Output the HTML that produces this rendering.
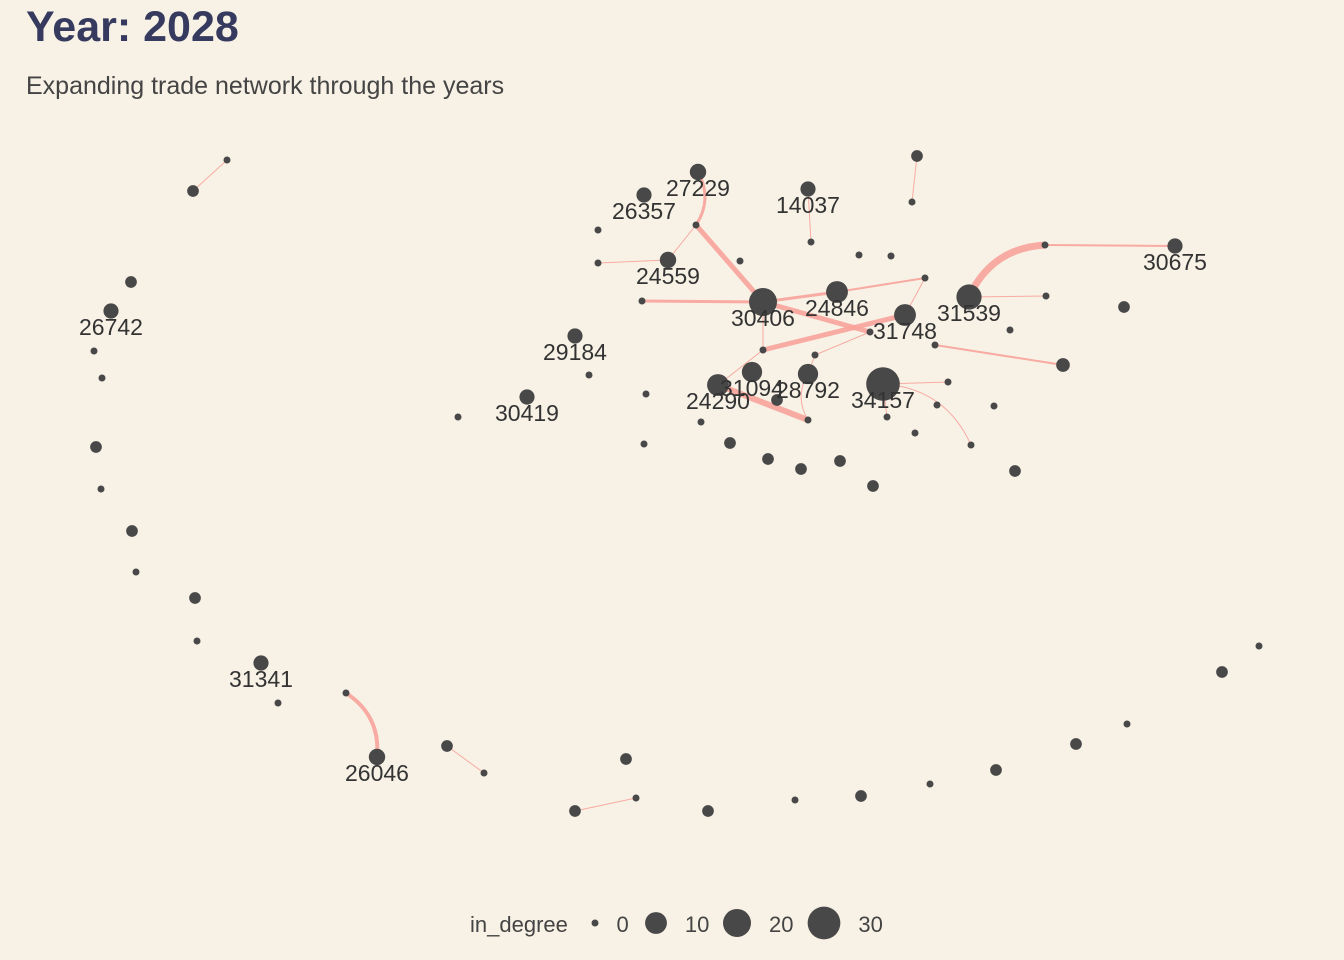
<!DOCTYPE html>
<html><head><meta charset="utf-8"><style>
html,body{margin:0;padding:0;background:#f8f2e6;}
svg{display:block;font-family:"Liberation Sans",sans-serif;}
</style></head><body>
<svg id="chart" width="1344" height="960" viewBox="0 0 1344 960">
<rect width="1344" height="960" fill="#f8f2e6"/>
<text x="26" y="41" font-size="43" font-weight="bold" fill="#363a5e">Year: 2028</text>
<text x="26" y="94" font-size="25" fill="#444">Expanding trade network through the years</text>
<g id="edges"></g>
<g id="nodes"></g>
<g id="labels"></g>
<g id="legend">
<text x="470" y="932" font-size="22" fill="#444">in_degree</text>
</g>
</svg>
<script>
// node data: layout positions, in-degree, label
const nodeX = [227,193,131,111,94,102,96,101,132,136,195,197,261,278,346,377,447,484,575,636,626,708,795,861,930,996,1076,1127,1222,1259,
575,589,527,458,
698,644,808,917,912,696,598,598,668,740,811,859,891,642,763,837,925,969,1046,1045,1175,905,1010,870,763,815,935,1063,752,808,718,883,777,808,948,937,994,887,646,701,915,971,644,730,768,801,840,873,1015,1124];
const nodeY = [160,191,282,311,351,378,447,489,531,572,598,641,663,703,693,757,746,773,811,798,759,811,800,796,784,770,744,724,672,646,
336,375,397,417,
172,195,189,156,202,225,230,263,260,261,242,255,256,301,302,292,278,297,296,245,246,315,330,332,350,355,345,365,372,374,385,384,400,420,382,405,406,417,394,422,433,445,444,443,459,469,461,486,471,307];
const nodeDeg = [0,1,1,3,0,0,1,0,1,0,1,0,3,0,0,4,1,0,1,0,1,1,0,1,0,1,1,0,1,0,
3,0,3,0,
4,3,3,1,0,0,0,0,4,0,0,0,0,0,20,10,0,15,0,0,3,10,0,0,0,0,0,2,8,8,10,32,1,0,0,0,0,0,0,0,0,0,0,1,1,1,1,1,1,1];
const nodeLabel = {3:"26742",12:"31341",15:"26046",30:"29184",32:"30419",34:"27229",35:"26357",36:"14037",42:"24559",48:"30406",49:"24846",51:"31539",54:"30675",55:"31748",62:"31094",63:"28792",64:"24290",65:"34157"};
// edges: from index, to index, weight
const edgeFrom = [0,14,17,19,38,34,39,39,41,47,48,48,58,50,50,51,53,52,60,36,48,58,64,67,59,59,65,65,71];
const edgeTo   = [1,15,16,18,37,39,48,42,42,48,49,57,55,49,55,53,54,51,61,44,58,64,67,63,63,57,68,75,65];
const edgeW    = [1,4,1,1,1,3,5,1,1,3,3,5,5,2,1,7,2,1,2,1,1,1,6,1,1,1,1,1,1];
const edgeCurve= [0,1,0,0,0,1,0,0,0,0,0,0,0,0,0,1,0,0,0,0,0,0,0,1,0,0,0,1,0];

function radius(d){return 3.5+2.35*Math.sqrt(d);}
const NS="http://www.w3.org/2000/svg";
const eg=document.getElementById('edges'), ng=document.getElementById('nodes'), lg=document.getElementById('labels');
for(let i=0;i<edgeFrom.length;i++){
  const a=edgeFrom[i], b=edgeTo[i];
  const x1=nodeX[a],y1=nodeY[a],x2=nodeX[b],y2=nodeY[b];
  const p=document.createElementNS(NS,'path');
  let d;
  if(edgeCurve[i]){
    const mx=(x1+x2)/2, my=(y1+y2)/2, dx=x2-x1, dy=y2-y1;
    const cx=mx+dy*0.3, cy=my-dx*0.3;
    d=`M${x1},${y1} Q${cx},${cy} ${x2},${y2}`;
  } else d=`M${x1},${y1} L${x2},${y2}`;
  p.setAttribute('d',d);
  p.setAttribute('fill','none');
  p.setAttribute('stroke','#f7a39a');
  p.setAttribute('stroke-opacity','0.9');
  p.setAttribute('stroke-width',edgeW[i]);
  
  
  eg.appendChild(p);
}
for(let i=0;i<nodeX.length;i++){
  const c=document.createElementNS(NS,'circle');
  c.setAttribute('cx',nodeX[i]);c.setAttribute('cy',nodeY[i]);
  c.setAttribute('r',radius(nodeDeg[i]));c.setAttribute('fill','#484848');
  
  
  ng.appendChild(c);
  if(nodeLabel[i]){
    const t=document.createElementNS(NS,'text');
    t.setAttribute('x',nodeX[i]);t.setAttribute('y',nodeY[i]+24);
    t.setAttribute('text-anchor','middle');t.setAttribute('font-size','23');t.setAttribute('fill','#333');
    t.textContent=nodeLabel[i];
    
    
    lg.appendChild(t);
  }
}
const legendVals=[0,10,20,30];
const legendX=[595,656,737,824];
const leg=document.getElementById('legend');
legendVals.forEach((v,k)=>{
  const c=document.createElementNS(NS,'circle');
  c.setAttribute('cx',legendX[k]);c.setAttribute('cy',923);c.setAttribute('r',radius(v));c.setAttribute('fill','#484848');
  
  
  leg.appendChild(c);
  const t=document.createElementNS(NS,'text');
  t.setAttribute('x',legendX[k]+radius(v)+18);t.setAttribute('y',932);t.setAttribute('font-size','22');t.setAttribute('fill','#444');
  t.textContent=v;
  
  
  leg.appendChild(t);
});
</script>
</body></html>
